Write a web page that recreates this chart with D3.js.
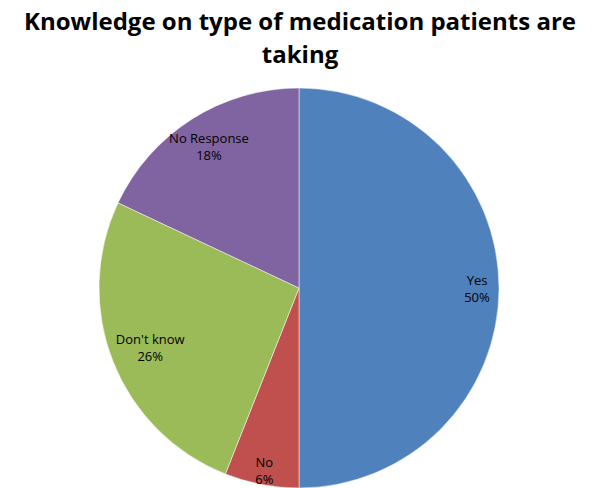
<!DOCTYPE html>
<html><head><meta charset="utf-8">
<script src="https://cdn.jsdelivr.net/npm/d3@7"></script>
<style>body{margin:0;background:#fff}</style></head>
<body><svg id="c" width="600" height="488"></svg>
<script>
const categories = ["Yes","No","Don't know","No Response"];
const values = [50,6,26,18];
const colors = ["#4F81BD","#C0504D","#9BBB59","#8064A2"];
const labelRadius = [178,185,160,168];

const svg = d3.select("#c");
svg.append("text").attr("x",300).attr("y",30).attr("text-anchor","middle")
  .attr("font-family","Open Sans, Liberation Sans, sans-serif").attr("font-weight","bold").attr("font-size",24)
  .text("Knowledge on type of medication patients are");
svg.append("text").attr("x",300).attr("y",63).attr("text-anchor","middle")
  .attr("font-family","Open Sans, Liberation Sans, sans-serif").attr("font-weight","bold").attr("font-size",24)
  .text("taking");

const g = svg.append("g").attr("transform","translate(299,288)");
const pie = d3.pie().sort(null).value(d=>d)(values);
const arc = d3.arc().innerRadius(0).outerRadius(200);
g.selectAll("path").data(pie).join("path").attr("d",arc)
  .attr("fill",(d,i)=>colors[i]).attr("stroke","#fff").attr("stroke-width",0.5);
const lab = g.selectAll("g.l").data(pie).join("g").attr("class","l")
  .attr("transform",(d,i)=>{const a=(d.startAngle+d.endAngle)/2;const r=labelRadius[i];
    return `translate(${r*Math.sin(a)},${-r*Math.cos(a)})`;});
lab.append("text").attr("text-anchor","middle").attr("y",-3)
  .attr("font-family","Open Sans, Liberation Sans, sans-serif").attr("font-size",13)
  .text((d,i)=>categories[i]);
lab.append("text").attr("text-anchor","middle").attr("y",14)
  .attr("font-family","Open Sans, Liberation Sans, sans-serif").attr("font-size",13)
  .text(d=>d.data+"%");
</script></body></html>
